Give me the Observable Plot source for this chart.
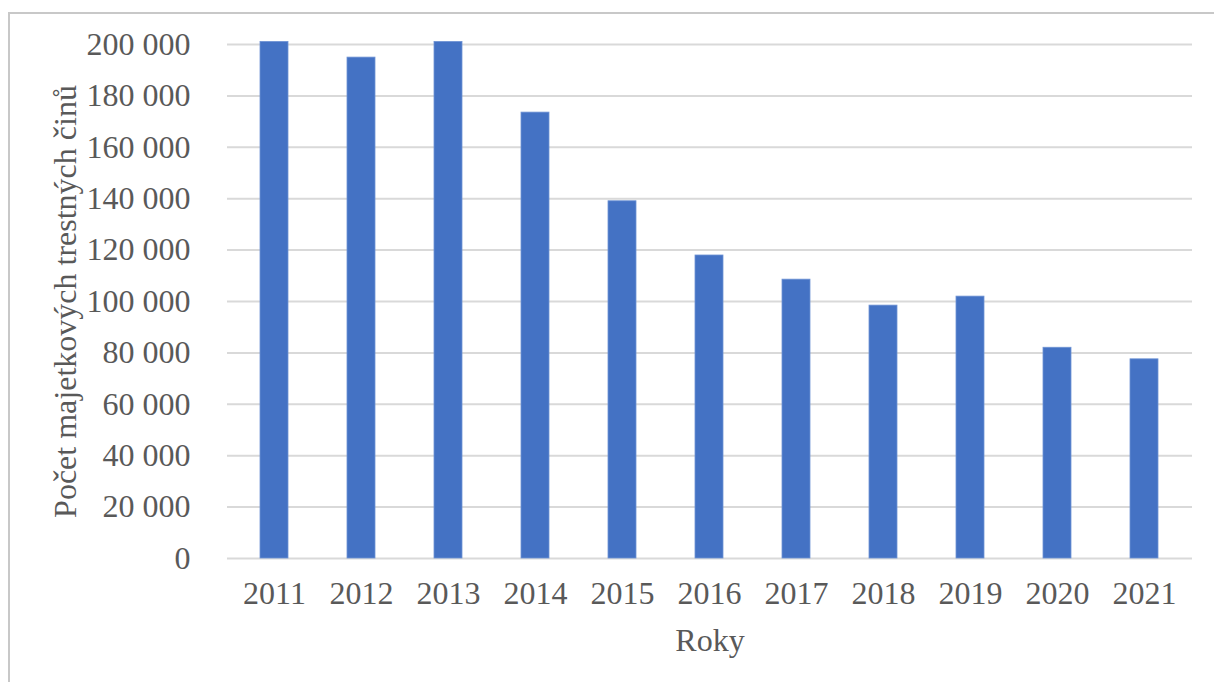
<!DOCTYPE html>
<html>
<head>
<meta charset="utf-8">
<script src="https://cdn.jsdelivr.net/npm/d3@7"></script>
<script src="https://cdn.jsdelivr.net/npm/@observablehq/plot@0.6"></script>
<style>
  html, body { margin: 0; padding: 0; background: #fff; }
  #wrap { position: relative; width: 1214px; height: 682px; overflow: hidden; }
  #frame { position: absolute; left: 8px; top: 12px; width: 1300px; height: 800px;
           border-top: 2px solid #c8c8c8; border-left: 2px solid #c8c8c8; box-sizing: border-box; }
  #chart { position: absolute; left: 0; top: 0; }
</style>
</head>
<body>
<div id="wrap"><div id="frame"></div><div id="chart"></div></div>
<script>
const years = ["2011","2012","2013","2014","2015","2016","2017","2018","2019","2020","2021"];
const counts = [201000, 194900, 201000, 173500, 139000, 117900, 108500, 98400, 101900, 82000, 77500];
const yTicks = [0, 20000, 40000, 60000, 80000, 100000, 120000, 140000, 160000, 180000, 200000];
const yLabel = "Počet majetkových trestných činů";
const xLabel = "Roky";

const data = years.map((y, i) => ({year: y, value: counts[i]}));
const fmt = d => d3.format(",")(d).replace(/,/g, " ");

const chart = Plot.plot({
  width: 1214,
  height: 682,
  marginLeft: 227,
  marginRight: 22,
  marginTop: 44,
  marginBottom: 124,
  style: {fontFamily: "'Liberation Serif', 'Times New Roman', serif", fontSize: "32px", color: "#595959", background: "transparent"},
  x: {domain: years, paddingInner: 0.675, paddingOuter: 0.3375, label: null, tickSize: 0, tickPadding: 23},
  y: {domain: [0, 200000], ticks: yTicks, tickFormat: fmt, label: null, tickSize: 0, tickPadding: 37},
  marks: [
    Plot.ruleY(yTicks, {stroke: "#d9d9d9", strokeWidth: 2}),
    Plot.barY(data, {x: "year", y: "value", fill: "#4472c4", stroke: "#6f93d4", strokeWidth: 0.8}),
    Plot.axisX({tickSize: 0, tickPadding: 23, fontSize: 32, fill: "#595959", label: null}),
    Plot.axisY({ticks: yTicks, tickFormat: fmt, tickSize: 0, tickPadding: 37, fontSize: 32, fill: "#595959", label: null}),
    Plot.text([yLabel], {text: d => d, frameAnchor: "left", dx: -162, rotate: -90, textAnchor: "middle", lineAnchor: "middle", fill: "#595959", fontSize: 32}),
    Plot.text([xLabel], {text: d => d, frameAnchor: "bottom", dy: 82, textAnchor: "middle", lineAnchor: "middle", fill: "#595959", fontSize: 32})
  ]
});
document.getElementById("chart").appendChild(chart);
</script>
</body>
</html>
